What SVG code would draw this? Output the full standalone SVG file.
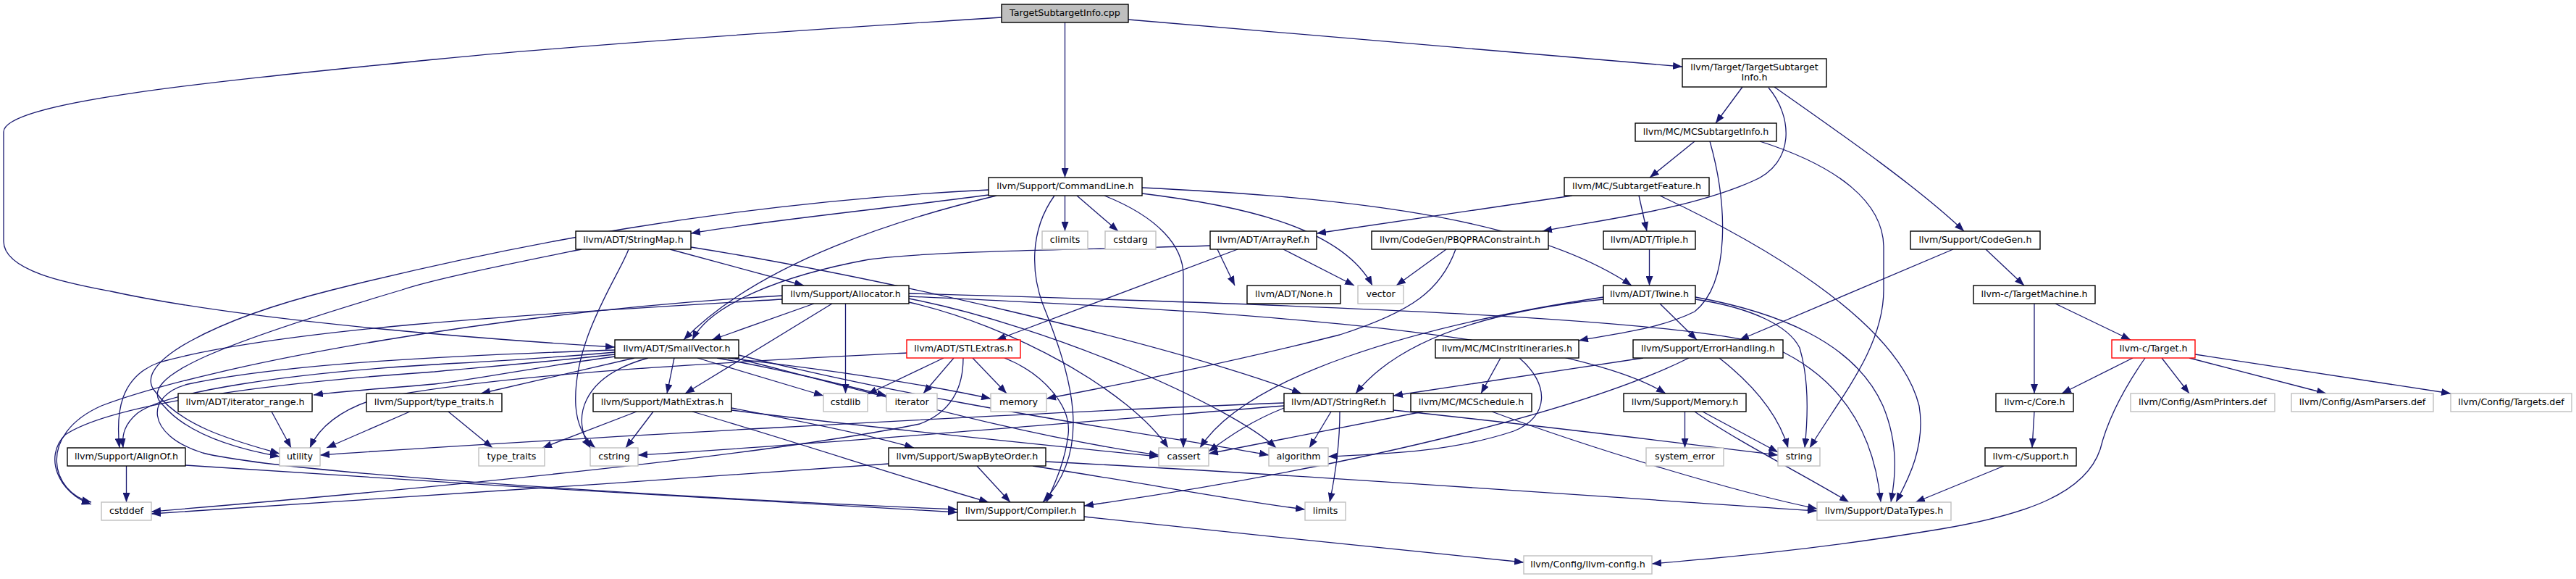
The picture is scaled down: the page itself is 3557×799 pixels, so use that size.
<svg xmlns="http://www.w3.org/2000/svg" width="3557" height="799" viewBox="0 0 3557 799">
<style>
.e{fill:none;stroke:#191970;stroke-width:1.3;marker-end:url(#ah)}
rect{fill:#fff;stroke:#000;stroke-width:1.4}
rect.x{stroke:#bfbfbf}
rect.r{stroke:#ff0000}
rect.c{fill:#bfbfbf}
text{font-family:"DejaVu Sans","Liberation Sans",sans-serif;font-size:12.7px;text-anchor:middle;fill:#000}
</style>
<defs>
<marker id="ah" markerWidth="13" markerHeight="10" refX="13" refY="5" orient="auto" markerUnits="userSpaceOnUse" viewBox="0 0 13 10">
<path d="M0,0 L13,5 L0,10 z" fill="#191970"/>
</marker>
</defs>
<rect x="0" y="0" width="3557" height="799" style="fill:#fff;stroke:none"/>
<g id="edges">
<path class="e" d="M1558,27 L2323,92"/>
<path class="e" d="M1470.5,31 L1470.5,245"/>
<path class="e" d="M1383,24 C1100,42 800,62 600,82 C300,112 5,140 5,182 L5,333 C5,375 100,392 153,402 C350,445 700,470 849,479"/>
<path class="e" d="M2406,120 L2369,170"/>
<path class="e" d="M2450,120 C2550,190 2650,260 2712,319"/>
<path class="e" d="M2442,121 C2475,160 2480,225 2420,250 C2330,290 2200,305 2130,319"/>
<path class="e" d="M2340,195 L2278,245"/>
<path class="e" d="M2361,195 C2385,280 2390,390 2340,430 C2290,455 2220,462 2180,470"/>
<path class="e" d="M2430,195 C2540,230 2600,280 2601,340 L2601,400 C2601,480 2540,550 2499,618"/>
<path class="e" d="M2171,270 L1818,322"/>
<path class="e" d="M2263,270 L2274,319"/>
<path class="e" d="M2292,270 C2420,330 2620,440 2650,560 C2660,620 2630,670 2618,693"/>
<path class="e" d="M1372,268 C1250,285 1050,305 954,322"/>
<path class="e" d="M1470.5,270 L1470.5,319"/>
<path class="e" d="M1487,270 L1544,319"/>
<path class="e" d="M1376,270 C1250,300 1050,360 944,469"/>
<path class="e" d="M1577,259 C1800,270 2100,290 2253,394"/>
<path class="e" d="M1577,267 C1700,282 1850,310 1895,394"/>
<path class="e" d="M1456,270 C1420,320 1425,380 1440,420 C1480,520 1510,620 1440,693"/>
<path class="e" d="M1525,270 C1600,300 1634,340 1634,380 L1634,618"/>
<path class="e" d="M1365,262 C1000,280 700,340 459,400 C300,440 180,500 214,540 C250,590 330,610 386,626"/>
<path class="e" d="M925,344 L1110,394"/>
<path class="e" d="M868,344 C855,380 790,470 795,560 C797,590 810,608 822,618"/>
<path class="e" d="M954,341 C1200,380 1600,470 1797,543"/>
<path class="e" d="M803,344 C700,365 600,385 555,400 C320,470 180,520 226,560 C260,600 330,620 386,630"/>
<path class="e" d="M1681,344 L1705,394"/>
<path class="e" d="M1772,344 L1870,394"/>
<path class="e" d="M1671,339 C1500,345 1300,345 1200,358 C1080,380 980,420 956,469"/>
<path class="e" d="M1709,344 L1376,469"/>
<path class="e" d="M1997,344 L1928,394"/>
<path class="e" d="M2010,344 C1990,400 1950,430 1850,462 C1700,500 1550,530 1445,550"/>
<path class="e" d="M2277.5,344 L2277.5,394"/>
<path class="e" d="M2742,344 L2795,394"/>
<path class="e" d="M2697,344 L2402,469"/>
<path class="e" d="M1124,419 L983,469"/>
<path class="e" d="M1149,419 L946,543"/>
<path class="e" d="M1167.5,419 L1167.5,543"/>
<path class="e" d="M1080,413 C800,430 400,450 220,500 C165,520 160,570 165,618"/>
<path class="e" d="M1080,408 C700,430 300,500 140,560 C50,600 70,680 126,693"/>
<path class="e" d="M1255,417 C1400,450 1560,540 1613,618"/>
<path class="e" d="M1255,412 C1450,450 1700,560 1762,618"/>
<path class="e" d="M1255,409 C1600,425 2150,450 2300,543"/>
<path class="e" d="M1255,405 C1800,420 2350,440 2450,480 C2560,530 2590,620 2597,693"/>
<path class="e" d="M2214,413 C2050,430 1930,470 1872,543"/>
<path class="e" d="M2292,419 L2343,469"/>
<path class="e" d="M2214,410 C1950,450 1720,520 1657,618"/>
<path class="e" d="M2341,413 C2420,425 2470,450 2485,480 C2500,530 2495,590 2492,618"/>
<path class="e" d="M2341,410 C2450,430 2560,470 2600,560 C2625,620 2615,670 2611,693"/>
<path class="e" d="M2809,419 L2809,543"/>
<path class="e" d="M2838,419 L2942,469"/>
<path class="e" d="M849,492 C750,505 650,525 600,530 C520,537 470,540 433,545"/>
<path class="e" d="M876,494 L664,543"/>
<path class="e" d="M931,494 L921,543"/>
<path class="e" d="M963,494 L1137,546"/>
<path class="e" d="M990,494 C1080,510 1160,530 1224,546"/>
<path class="e" d="M1005,494 C1100,505 1250,525 1368,550"/>
<path class="e" d="M895,494 C800,520 790,580 815,618"/>
<path class="e" d="M1015,494 C1200,540 1400,600 1600,628"/>
<path class="e" d="M1020,490 C1300,560 1600,600 1752,628"/>
<path class="e" d="M849,486 C750,495 650,500 600,503 C400,515 230,540 190,570 C172,585 168,600 170,618"/>
<path class="e" d="M849,489 C750,500 650,508 600,513 C350,530 150,560 90,600 C60,630 80,680 126,696"/>
<path class="e" d="M849,483 C650,490 400,500 260,530 C200,545 200,600 280,625 C400,655 1000,690 1322,703"/>
<path class="e" d="M1303,494 L1198,544"/>
<path class="e" d="M1317,494 L1275,543"/>
<path class="e" d="M1343,494 L1390,543"/>
<path class="e" d="M1387,494 C1440,515 1480,560 1475,600 C1470,640 1455,670 1445,693"/>
<path class="e" d="M1330,494 C1330,540 1310,570 1270,585 C1000,640 400,690 209,706"/>
<path class="e" d="M1252,487 C1000,500 700,515 520,550 C470,565 440,590 428,618"/>
<path class="e" d="M2072,494 L2045,543"/>
<path class="e" d="M2098,494 C2140,530 2140,575 2090,595 C2000,625 1900,627 1834,630"/>
<path class="e" d="M2269,494 L1924,546"/>
<path class="e" d="M2332,494 C2200,560 1900,640 1497,698"/>
<path class="e" d="M2374,494 C2420,530 2455,570 2469,618"/>
<path class="e" d="M2945,494 L2847,543"/>
<path class="e" d="M2985,494 L3023,543"/>
<path class="e" d="M3023,494 L3212,543"/>
<path class="e" d="M3031,489 L3384,543"/>
<path class="e" d="M2962,494 C2930,540 2910,580 2900,620 C2880,680 2800,710 2680,730 C2500,760 2350,772 2281,778"/>
<path class="e" d="M375,568 L402,618"/>
<path class="e" d="M566,568 L451,618"/>
<path class="e" d="M619,568 L680,618"/>
<path class="e" d="M879,568 L749,618"/>
<path class="e" d="M902,568 L864,618"/>
<path class="e" d="M1010,563 C1100,580 1200,600 1262,618"/>
<path class="e" d="M956,568 C1100,610 1250,660 1365,693"/>
<path class="e" d="M1010,566 C1200,590 1450,615 1600,630"/>
<path class="e" d="M1773,556 C1400,570 700,610 442,628"/>
<path class="e" d="M1773,560 C1400,590 1100,615 881,628"/>
<path class="e" d="M1773,563 C1730,580 1700,600 1669,623"/>
<path class="e" d="M1838,568 L1808,618"/>
<path class="e" d="M1850,568 C1850,610 1845,650 1836,693"/>
<path class="e" d="M1924,566 C2150,590 2350,615 2455,628"/>
<path class="e" d="M1965,568 C1850,590 1750,610 1669,626"/>
<path class="e" d="M2060,568 C2200,620 2400,680 2509,702"/>
<path class="e" d="M2326.5,568 L2326.5,618"/>
<path class="e" d="M2351,568 L2455,624"/>
<path class="e" d="M2340,568 C2400,610 2500,660 2553,693"/>
<path class="e" d="M2809,568 L2806,618"/>
<path class="e" d="M174.5,643 L174.5,693"/>
<path class="e" d="M256,642 C600,665 1000,690 1322,707"/>
<path class="e" d="M1349,643 L1395,693"/>
<path class="e" d="M1444,637 C1800,655 2200,685 2509,705"/>
<path class="e" d="M1426,643 C1600,670 1700,690 1802,703"/>
<path class="e" d="M1227,640 C900,665 400,695 209,709"/>
<path class="e" d="M2767,643 L2645,693"/>
<path class="e" d="M1497,713 C1700,735 1900,755 2104,776"/>
</g>
<g id="n-cpp"><rect class="c" x="1383" y="6" width="175" height="25"/><text x="1470.5" y="22">TargetSubtargetInfo.cpp</text></g>
<g id="n-tsi"><rect x="2323" y="81" width="199" height="39"/><text x="2422.5" y="97">llvm/Target/TargetSubtarget</text><text x="2422.5" y="111">Info.h</text></g>
<g id="n-mcsi"><rect x="2258" y="170" width="195" height="25"/><text x="2355.5" y="186">llvm/MC/MCSubtargetInfo.h</text></g>
<g id="n-cl"><rect x="1365" y="245" width="212" height="25"/><text x="1471" y="261">llvm/Support/CommandLine.h</text></g>
<g id="n-sf"><rect x="2160" y="245" width="200" height="25"/><text x="2260" y="261">llvm/MC/SubtargetFeature.h</text></g>
<g id="n-sm"><rect x="795" y="319" width="159" height="25"/><text x="874.5" y="335">llvm/ADT/StringMap.h</text></g>
<g id="n-climits"><rect class="x" x="1439" y="319" width="63" height="25"/><text x="1470.5" y="335">climits</text></g>
<g id="n-cstdarg"><rect class="x" x="1526" y="319" width="70" height="25"/><text x="1561" y="335">cstdarg</text></g>
<g id="n-ar"><rect x="1671" y="319" width="147" height="25"/><text x="1744.5" y="335">llvm/ADT/ArrayRef.h</text></g>
<g id="n-pbq"><rect x="1894" y="319" width="244" height="25"/><text x="2016" y="335">llvm/CodeGen/PBQPRAConstraint.h</text></g>
<g id="n-triple"><rect x="2214" y="319" width="127" height="25"/><text x="2277.5" y="335">llvm/ADT/Triple.h</text></g>
<g id="n-codegen"><rect x="2638" y="319" width="179" height="25"/><text x="2727.5" y="335">llvm/Support/CodeGen.h</text></g>
<g id="n-alloc"><rect x="1080" y="394" width="175" height="25"/><text x="1167.5" y="410">llvm/Support/Allocator.h</text></g>
<g id="n-none"><rect x="1722" y="394" width="129" height="25"/><text x="1786.5" y="410">llvm/ADT/None.h</text></g>
<g id="n-vector"><rect class="x" x="1875" y="394" width="63" height="25"/><text x="1906.5" y="410">vector</text></g>
<g id="n-twine"><rect x="2214" y="394" width="127" height="25"/><text x="2277.5" y="410">llvm/ADT/Twine.h</text></g>
<g id="n-tm"><rect x="2725" y="394" width="168" height="25"/><text x="2809" y="410">llvm-c/TargetMachine.h</text></g>
<g id="n-sv"><rect x="849" y="469" width="171" height="25"/><text x="934.5" y="485">llvm/ADT/SmallVector.h</text></g>
<g id="n-stl"><rect class="r" x="1252" y="469" width="157" height="25"/><text x="1330.5" y="485">llvm/ADT/STLExtras.h</text></g>
<g id="n-mcii"><rect x="1982" y="469" width="198" height="25"/><text x="2081" y="485">llvm/MC/MCInstrItineraries.h</text></g>
<g id="n-eh"><rect x="2255" y="469" width="207" height="25"/><text x="2358.5" y="485">llvm/Support/ErrorHandling.h</text></g>
<g id="n-target"><rect class="r" x="2916" y="469" width="115" height="25"/><text x="2973.5" y="485">llvm-c/Target.h</text></g>
<g id="n-ir"><rect x="246" y="543" width="185" height="25"/><text x="338.5" y="559">llvm/ADT/iterator_range.h</text></g>
<g id="n-tth"><rect x="506" y="543" width="187" height="25"/><text x="599.5" y="559">llvm/Support/type_traits.h</text></g>
<g id="n-me"><rect x="819" y="543" width="191" height="25"/><text x="914.5" y="559">llvm/Support/MathExtras.h</text></g>
<g id="n-cstdlib"><rect class="x" x="1137" y="543" width="61" height="25"/><text x="1167.5" y="559">cstdlib</text></g>
<g id="n-iterator"><rect class="x" x="1224" y="543" width="70" height="25"/><text x="1259" y="559">iterator</text></g>
<g id="n-memory"><rect class="x" x="1368" y="543" width="77" height="25"/><text x="1406.5" y="559">memory</text></g>
<g id="n-sr"><rect x="1773" y="543" width="151" height="25"/><text x="1848.5" y="559">llvm/ADT/StringRef.h</text></g>
<g id="n-mcs"><rect x="1948" y="543" width="167" height="25"/><text x="2031.5" y="559">llvm/MC/MCSchedule.h</text></g>
<g id="n-mem"><rect x="2242" y="543" width="169" height="25"/><text x="2326.5" y="559">llvm/Support/Memory.h</text></g>
<g id="n-core"><rect x="2756" y="543" width="107" height="25"/><text x="2809.5" y="559">llvm-c/Core.h</text></g>
<g id="n-asmpr"><rect class="x" x="2942" y="543" width="199" height="25"/><text x="3041.5" y="559">llvm/Config/AsmPrinters.def</text></g>
<g id="n-asmpa"><rect class="x" x="3164" y="543" width="196" height="25"/><text x="3262" y="559">llvm/Config/AsmParsers.def</text></g>
<g id="n-targets"><rect class="x" x="3384" y="543" width="167" height="25"/><text x="3467.5" y="559">llvm/Config/Targets.def</text></g>
<g id="n-alignof"><rect x="93" y="618" width="163" height="25"/><text x="174.5" y="634">llvm/Support/AlignOf.h</text></g>
<g id="n-utility"><rect class="x" x="386" y="618" width="56" height="25"/><text x="414" y="634">utility</text></g>
<g id="n-tt"><rect class="x" x="661" y="618" width="91" height="25"/><text x="706.5" y="634">type_traits</text></g>
<g id="n-cstring"><rect class="x" x="815" y="618" width="66" height="25"/><text x="848" y="634">cstring</text></g>
<g id="n-sbo"><rect x="1227" y="618" width="217" height="25"/><text x="1335.5" y="634">llvm/Support/SwapByteOrder.h</text></g>
<g id="n-cassert"><rect class="x" x="1600" y="618" width="69" height="25"/><text x="1634.5" y="634">cassert</text></g>
<g id="n-algorithm"><rect class="x" x="1752" y="618" width="82" height="25"/><text x="1793" y="634">algorithm</text></g>
<g id="n-syserr"><rect class="x" x="2273" y="618" width="107" height="25"/><text x="2326.5" y="634">system_error</text></g>
<g id="n-string"><rect class="x" x="2455" y="618" width="58" height="25"/><text x="2484" y="634">string</text></g>
<g id="n-support"><rect x="2741" y="618" width="126" height="25"/><text x="2804" y="634">llvm-c/Support.h</text></g>
<g id="n-cstddef"><rect class="x" x="140" y="693" width="69" height="25"/><text x="174.5" y="709">cstddef</text></g>
<g id="n-compiler"><rect x="1322" y="693" width="175" height="25"/><text x="1409.5" y="709">llvm/Support/Compiler.h</text></g>
<g id="n-limits"><rect class="x" x="1802" y="693" width="56" height="25"/><text x="1830" y="709">limits</text></g>
<g id="n-dt"><rect class="x" x="2509" y="693" width="185" height="25"/><text x="2601.5" y="709">llvm/Support/DataTypes.h</text></g>
<g id="n-config"><rect class="x" x="2104" y="767" width="177" height="25"/><text x="2192.5" y="783">llvm/Config/llvm-config.h</text></g>
</svg>
